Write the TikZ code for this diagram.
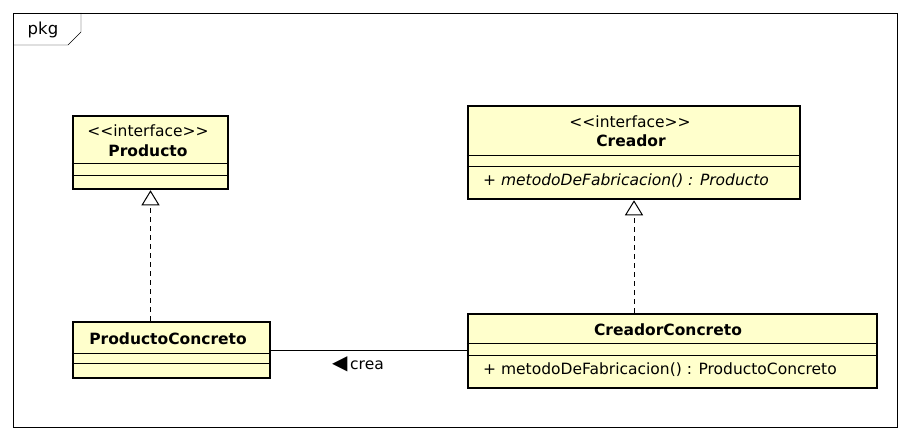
\documentclass[tikz,border=0pt]{standalone}
\usepackage{fontspec}
\setmainfont{DejaVu Sans}
\usetikzlibrary{arrows.meta,positioning}
\definecolor{umlfill}{RGB}{255,255,204}

\begin{document}
\begin{tikzpicture}[x=1pt, y=-1pt,
    font=\fontsize{15.5}{18}\selectfont,
    classbox/.style={draw, line width=2.5pt, fill=umlfill, inner sep=0pt},
    sepline/.style={line width=0.8pt},
    realize/.style={dash pattern=on 5pt off 4pt, -{Triangle[open, length=15pt, width=18pt, line width=1pt]}},
    member/.style={anchor=west, inner sep=0pt},
    classname/.style={font=\fontsize{15.5}{18}\selectfont\bfseries},
  ]
  \useasboundingbox (0,0) rectangle (910,441);
  % package frame
  \draw (13,13) rectangle (897,427);
  \draw (13,45) -- (68,45) -- (81,32) -- (81,13);
  \node[font=\fontsize{16.5}{19}\selectfont] (pkg) at (43,30) {pkg};

  % interfaces
  \node[classbox, minimum width=155pt, minimum height=73pt] (producto) at (150.5,152.5) {};
  \draw[sepline] (producto.west |- 0,163) -- (producto.east |- 0,163);
  \draw[sepline] (producto.west |- 0,175) -- (producto.east |- 0,175);
  \node (prodster) at (148,131) {{<}{<}interface{>}{>}};
  \node[classname] (prodname) at (148,151) {Producto};

  \node[classbox, minimum width=332pt, minimum height=93pt] (creador) at (634,152.5) {};
  \draw[sepline] (creador.west |- 0,155) -- (creador.east |- 0,155);
  \draw[sepline] (creador.west |- 0,166) -- (creador.east |- 0,166);
  \node (creaster) at (630,122) {{<}{<}interface{>}{>}};
  \node[classname] (creaname) at (631,141) {Creador};
  \node[member, font=\fontsize{15.5}{18}\selectfont\itshape] (creameth) at (483,181) {+ metodoDeFabricacion() : Producto};

  % concrete classes
  \node[classbox, minimum width=197pt, minimum height=56pt] (prodconc) at (171.5,350) {};
  \draw[sepline] (prodconc.west |- 0,353) -- (prodconc.east |- 0,353);
  \draw[sepline] (prodconc.west |- 0,363) -- (prodconc.east |- 0,363);
  \node[classname] (pcname) at (168,339) {ProductoConcreto};

  \node[classbox, minimum width=409pt, minimum height=74pt] (creadconc) at (672.5,351) {};
  \draw[sepline] (creadconc.west |- 0,343) -- (creadconc.east |- 0,343);
  \draw[sepline] (creadconc.west |- 0,355) -- (creadconc.east |- 0,355);
  \node[classname] (ccname) at (668,330) {CreadorConcreto};
  \node[member] (ccmeth) at (483,370) {+ metodoDeFabricacion() : ProductoConcreto};

  % relations
  \draw[realize] (producto.south |- prodconc.north) -- (producto.south);
  \draw[realize] (creador.south |- creadconc.north) -- (creador.south);
  \draw (prodconc.east) -- (prodconc.east -| creadconc.west);
  \node (crea) at (358,364) {{\fontsize{20}{20}\selectfont ◀}\,crea};
\end{tikzpicture}
\end{document}
